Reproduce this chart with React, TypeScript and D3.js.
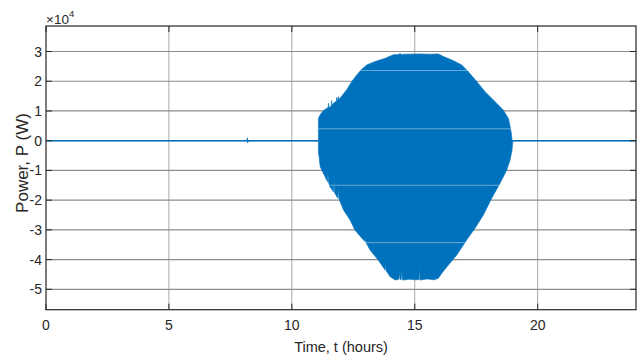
import React from "react";
import * as d3 from "d3";

// Time axis ticks (hours) and power axis ticks (in units of 1e4 W)
const TIME_TICKS = [0, 5, 10, 15, 20];
const POWER_TICKS = [-5, -4, -3, -2, -1, 0, 1, 2, 3];
const POWER_EXP = 4;

// Idle baseline (W) before/after the active window, with the small blip near 8.2 h
const baseT = [0, 8.17, 8.19, 8.21, 8.23, 24];
const baseP = [0, 0, 400, -300, 0, 0];

// Upper envelope of the oscillating power signal (t in hours, P in W)
const upperT = [
  11.08, 11.08, 11.15, 11.28, 11.42, 11.47, 11.49, 11.51, 11.6, 11.62, 11.64, 11.69, 11.81, 11.83,
  11.85, 11.87, 11.89, 11.91, 11.96, 12.23, 12.44, 12.64, 12.84, 13.05, 13.38, 13.79, 14.13, 14.35,
  14.4, 14.45, 14.6, 15.22, 15.6, 15.96, 16.17, 16.58, 16.91, 17.18, 17.52, 17.86, 18.27, 18.6,
  18.81, 18.88, 18.93, 18.96,
];
const upperP = [
  0, 7500, 8700, 10100, 10900, 11000, 12600, 11200, 11500, 13500, 11800, 12600, 13300, 14600,
  13500, 13700, 14800, 13900, 14300, 17100, 19900, 22100, 24000, 25500, 26600, 27700, 28900, 29000,
  29400, 29000, 29100, 29200, 29100, 29200, 28300, 26900, 25500, 23200, 19900, 16500, 13100, 10300,
  7500, 4700, 2500, 0,
];

// Lower envelope of the oscillating power signal (t in hours, P in W)
const lowerT = [
  11.08, 11.08, 11.11, 11.15, 11.35, 11.45, 11.47, 11.49, 11.55, 11.7, 11.72, 11.74, 11.83, 11.88,
  11.9, 11.92, 12.1, 12.37, 12.57, 12.91, 12.96, 12.98, 13.0, 13.18, 13.52, 13.79, 13.81, 13.83,
  14.0, 14.1, 14.2, 14.35, 14.38, 14.4, 14.45, 14.47, 14.5, 14.8, 15.0, 15.17, 15.19, 15.21, 15.5,
  15.8, 15.96, 16.1, 16.37, 16.71, 17.11, 17.45, 17.79, 18.13, 18.47, 18.74, 18.88, 18.96, 18.99,
];
const lowerP = [
  0, -4000, -5400, -8700, -12100, -13800, -10800, -13900, -15500, -17300, -13300, -17500, -18900,
  -19400, -15500, -19600, -23300, -26700, -30100, -33400, -33800, -32900, -34000, -36800, -40200,
  -43500, -41300, -43700, -45800, -46300, -46900, -46600, -44300, -46800, -46600, -43800, -46900,
  -46600, -46800, -46700, -42400, -46900, -46500, -46800, -46300, -44600, -41800, -38500, -33400,
  -29500, -25000, -19400, -14300, -9900, -6500, -3000, 0,
];

// Faint light banding rows running across the filled signal (W)
const bandP = [23600, 4000, -15000, -34300];

const W = 641;
const H = 359;
const left = 46;
const right = 636;
const top = 26;
const bottom = 309.7;

const FONT = "'Liberation Sans', Arial, Helvetica, sans-serif";
const BLUE = "#0072BD";
const AXIS = "#262626";

export default function App() {
  const x = d3.scaleLinear().domain([0, 24]).range([left, right]);
  const y = d3.scaleLinear().domain([-56860, 38580]).range([bottom, top]);
  const scale = Math.pow(10, POWER_EXP);

  const line = d3
    .line<[number, number]>()
    .x((d) => x(d[0]))
    .y((d) => y(d[1]));

  const basePts = baseT.map((t, i) => [t, baseP[i]] as [number, number]);
  const upperPts = upperT.map((t, i) => [t, upperP[i]] as [number, number]);
  const lowerPts = lowerT.map((t, i) => [t, lowerP[i]] as [number, number]);
  const envelope = line([...upperPts, ...lowerPts.slice().reverse()]) + "Z";

  const tickLen = 6;

  return (
    <svg
      width={W}
      height={H}
      style={{ position: "absolute", left: 0, top: 0, background: "#fff" }}
      fontFamily={FONT}
    >
      <rect x={0} y={0} width={W} height={H} fill="#fff" />
      <defs>
        <clipPath id="plot-area">
          <rect x={left} y={top} width={right - left} height={bottom - top} />
        </clipPath>
        <clipPath id="signal-area">
          <path d={envelope} />
        </clipPath>
      </defs>

      {/* grid */}
      <g>
        {TIME_TICKS.filter((t) => t > 0).map((t) => (
          <line key={`gx${t}`} x1={x(t)} x2={x(t)} y1={top} y2={bottom} stroke="#a8a8a8" strokeWidth={1} />
        ))}
        {POWER_TICKS.map((p) => (
          <line
            key={`gy${p}`}
            x1={left}
            x2={right}
            y1={y(p * scale)}
            y2={y(p * scale)}
            stroke="#8c8c8c"
            strokeWidth={1.2}
          />
        ))}
      </g>

      {/* signal */}
      <g clipPath="url(#plot-area)">
        <path d={line(basePts) || ""} fill="none" stroke={BLUE} strokeWidth={1.5} />
        <path d={envelope} fill={BLUE} stroke={BLUE} strokeWidth={0.6} />
        <g clipPath="url(#signal-area)">
          {bandP.map((p) => (
            <line
              key={`b${p}`}
              x1={left}
              x2={right}
              y1={y(p)}
              y2={y(p)}
              stroke="#ffffff"
              strokeOpacity={0.4}
              strokeWidth={1}
            />
          ))}
        </g>
      </g>

      {/* axes box and ticks */}
      <rect x={left} y={top} width={right - left} height={bottom - top} fill="none" stroke={AXIS} strokeWidth={1.2} />
      {TIME_TICKS.map((t) => (
        <g key={`tx${t}`}>
          <line x1={x(t)} x2={x(t)} y1={bottom} y2={bottom - tickLen} stroke={AXIS} strokeWidth={1} />
          <line x1={x(t)} x2={x(t)} y1={top} y2={top + tickLen} stroke={AXIS} strokeWidth={1} />
          <text x={x(t)} y={330} textAnchor="middle" fontSize={14} fill="#262626">
            {t}
          </text>
        </g>
      ))}
      {POWER_TICKS.map((p) => (
        <g key={`ty${p}`}>
          <line x1={left} x2={left + tickLen} y1={y(p * scale)} y2={y(p * scale)} stroke={AXIS} strokeWidth={1} />
          <line x1={right} x2={right - tickLen} y1={y(p * scale)} y2={y(p * scale)} stroke={AXIS} strokeWidth={1} />
          <text x={42} y={y(p * scale) + 5} textAnchor="end" fontSize={14} fill="#262626">
            {p}
          </text>
        </g>
      ))}

      {/* exponent label */}
      <text x={46} y={23.5} fontSize={13.5} fill="#262626">
        ×10
        <tspan fontSize={9.5} dy={-7}>
          {POWER_EXP}
        </tspan>
      </text>

      {/* axis titles */}
      <text x={(left + right) / 2} y={352} textAnchor="middle" fontSize={14.5} fill="#262626">
        Time, t (hours)
      </text>
      <text
        transform={`translate(28,163) rotate(-90)`}
        textAnchor="middle"
        fontSize={17}
        fill="#262626"
      >
        Power, P (W)
      </text>
    </svg>
  );
}
